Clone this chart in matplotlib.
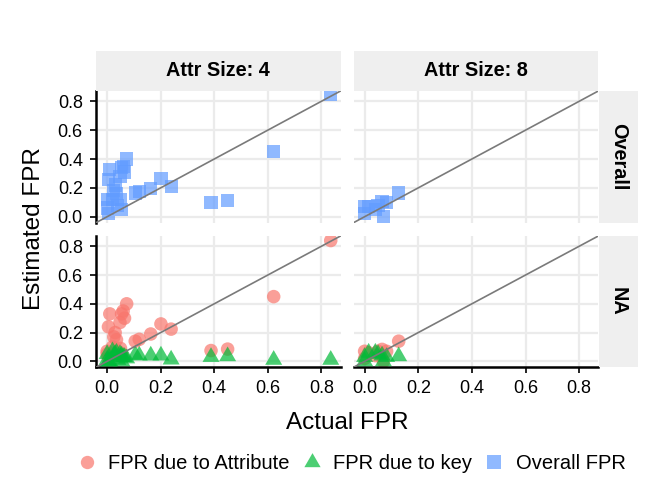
import numpy as np
import matplotlib
matplotlib.use('Agg')
import matplotlib.pyplot as plt
from matplotlib.lines import Line2D

plt.rcParams['font.family'] = ['Liberation Sans', 'DejaVu Sans']

W, H = 664, 504

col_labels = ['Attr Size: 4', 'Attr Size: 8']
row_labels = ['Overall', 'NA']

# attr size 4: actual FPR and estimated values
a4_actual = [0.835, 0.622, 0.388, 0.450, 0.239, 0.201, 0.163, 0.120, 0.105,
             0.073, 0.060, 0.054, 0.048, 0.010, 0.005, 0.030, 0.035, 0.020,
             0.050, 0.000, 0.000, 0.055, 0.005, 0.040, 0.065, 0.025]
a4_overall = [0.847, 0.452, 0.099, 0.111, 0.207, 0.266, 0.193, 0.175, 0.165,
              0.400, 0.350, 0.340, 0.280, 0.330, 0.260, 0.220, 0.160, 0.120,
              0.120, 0.120, 0.060, 0.050, 0.020, 0.080, 0.310, 0.180]
a4_attr = [0.840, 0.450, 0.075, 0.085, 0.224, 0.260, 0.190, 0.153, 0.140,
           0.400, 0.350, 0.330, 0.270, 0.330, 0.240, 0.200, 0.150, 0.100,
           0.090, 0.070, 0.050, 0.050, 0.020, 0.070, 0.300, 0.170]
a4_key = [0.010, 0.010, 0.030, 0.035, 0.012, 0.040, 0.040, 0.040, 0.045,
          0.020, 0.030, 0.040, 0.050, 0.000, 0.000, 0.050, 0.060, 0.070,
          0.030, 0.050, 0.010, 0.000, 0.000, 0.010, 0.030, 0.040]

# attr size 8
a8_actual = [0.127, 0.065, 0.082, 0.000, 0.015, 0.000, 0.070, 0.040, 0.050]
a8_overall = [0.165, 0.106, 0.100, 0.070, 0.070, 0.020, 0.000, 0.050, 0.080]
a8_attr = [0.140, 0.083, 0.070, 0.070, 0.060, 0.020, 0.000, 0.040, 0.070]
a8_key = [0.035, 0.040, 0.030, 0.030, 0.060, 0.000, 0.000, 0.060, 0.050]

ticks = [0.0, 0.2, 0.4, 0.6, 0.8]
tick_labels = ['0.0', '0.2', '0.4', '0.6', '0.8']

red = '#F8766D'
green = '#00BA38'
blue = '#619CFF'
alpha = 0.7

# equilateral triangle like ggplot pch 17
tri = [(0, 1), (-0.866, -0.5), (0.866, -0.5), (0, 1)]


def px_rect(x0, y0, x1, y1):
    return [x0 / W, 1 - y1 / H, (x1 - x0) / W, (y1 - y0) / H]


fig = plt.figure(figsize=(W / 100, H / 100), dpi=100)

col_x = [(96, 340.5), (353.5, 598.3)]
row_y = [(91, 222.7), (236, 367.3)]

data = [(a4_actual, a4_overall, a4_attr, a4_key),
        (a8_actual, a8_overall, a8_attr, a8_key)]

for r in range(2):
    for c in range(2):
        ax = fig.add_axes(px_rect(col_x[c][0], row_y[r][0], col_x[c][1], row_y[r][1]))
        ax.set_xlim(-0.0415, 0.8715)
        ax.set_ylim(-0.0415, 0.8715)
        ax.set_xticks(ticks)
        ax.set_yticks(ticks)
        ax.grid(True, color='#EBEBEB', linewidth=1.6)
        ax.set_axisbelow(True)
        for s in ax.spines.values():
            s.set_visible(False)
        actual, overall, attr, key = data[c]
        if r == 0:
            ax.scatter(actual, overall, marker='s', s=90, color=blue, alpha=alpha,
                       edgecolors='none', zorder=2)
        else:
            ax.scatter(actual, attr, marker='o', s=95, color=red, alpha=alpha,
                       edgecolors='none', zorder=2)
            ax.scatter(actual, key, marker=tri, s=200, color=green, alpha=alpha,
                       edgecolors='none', zorder=3)
        ax.axline((0, 0), slope=1, color='#7A7A7A', linewidth=1.2, zorder=4)

        if c == 0:
            ax.spines['left'].set_visible(True)
            ax.spines['left'].set_linewidth(1.8)
            ax.spines['left'].set_color('black')
            ax.set_yticklabels(tick_labels)
            ax.tick_params(axis='y', length=4.5, width=1.2, color='black',
                           labelsize=13, pad=5, labelcolor='black')
        else:
            ax.tick_params(axis='y', length=0, labelleft=False)
        if r == 1:
            ax.spines['bottom'].set_visible(True)
            ax.spines['bottom'].set_linewidth(1.8)
            ax.spines['bottom'].set_color('black')
            ax.set_xticklabels(tick_labels)
            ax.tick_params(axis='x', length=4.5, width=1.2, color='black',
                           labelsize=13, pad=5, labelcolor='black')
        else:
            ax.tick_params(axis='x', length=0, labelbottom=False)

# strips
for c in range(2):
    sax = fig.add_axes(px_rect(col_x[c][0], 51, col_x[c][1], 90.5))
    sax.set_facecolor('#EFEFEF')
    sax.set_xticks([])
    sax.set_yticks([])
    for s in sax.spines.values():
        s.set_visible(False)
    sax.text(0.5, 0.5, col_labels[c], ha='center', va='center',
             fontsize=14.3, fontweight='bold', transform=sax.transAxes)

for r in range(2):
    sax = fig.add_axes(px_rect(598.7, row_y[r][0], 638.3, row_y[r][1]))
    sax.set_facecolor('#EFEFEF')
    sax.set_xticks([])
    sax.set_yticks([])
    for s in sax.spines.values():
        s.set_visible(False)
    sax.text(0.5, 0.5, row_labels[r], ha='center', va='center', rotation=-90,
             fontsize=14.3, fontweight='bold', transform=sax.transAxes)

fig.text(347 / W, 1 - 429.3 / H, 'Actual FPR', ha='center', va='baseline',
         fontsize=17.5)
fig.text(34 / W, 1 - 229 / H, 'Estimated FPR', ha='center', va='center',
         rotation=90, fontsize=17.5)

handles = [
    Line2D([], [], linestyle='none', marker='o', markersize=9.6, color=red,
           alpha=alpha, markeredgewidth=0),
    Line2D([], [], linestyle='none', marker=tri, markersize=13.5, color=green,
           alpha=alpha, markeredgewidth=0),
    Line2D([], [], linestyle='none', marker='s', markersize=9.4, color=blue,
           alpha=alpha, markeredgewidth=0),
]
fig.legend(handles, ['FPR due to Attribute', 'FPR due to key', 'Overall FPR'],
           loc='center', bbox_to_anchor=(351.2 / W, 1 - 463.3 / H), ncol=3,
           frameon=False, fontsize=14.5, handlelength=1.0, handletextpad=0.57,
           columnspacing=0.59, borderpad=0, borderaxespad=0)

fig.savefig('out.png', dpi=100)
